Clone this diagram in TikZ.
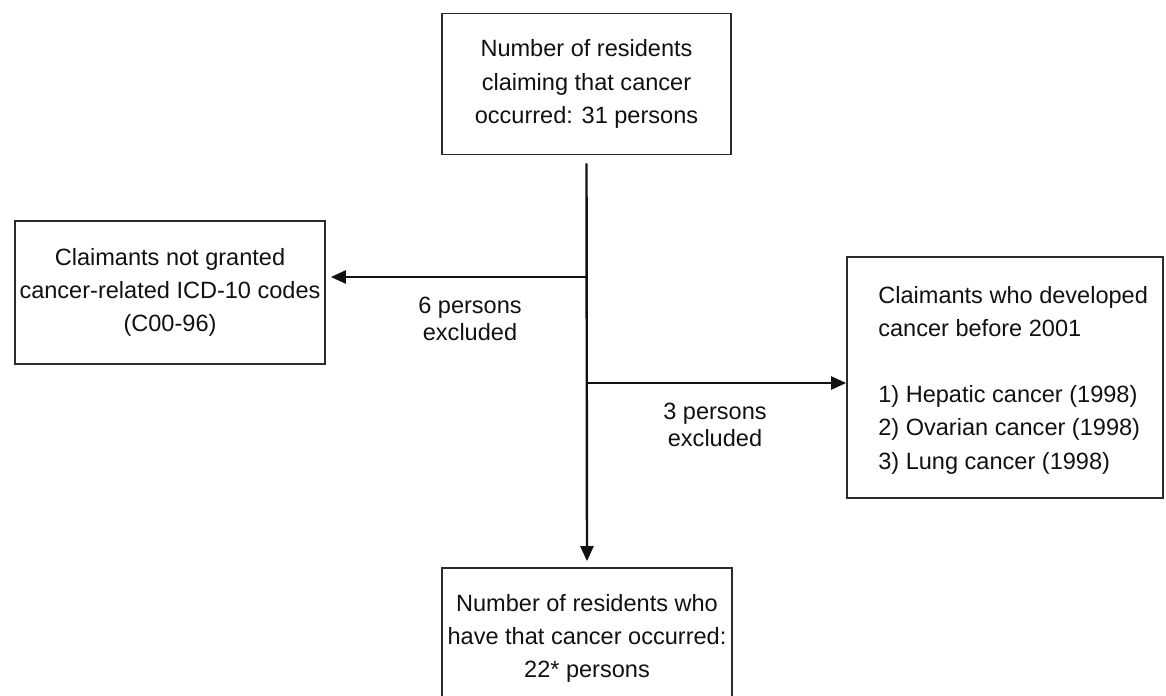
\documentclass[tikz,border=0pt]{standalone}
\usepackage{fontspec}
\setmainfont{Liberation Sans}
\usepackage{tikz}
\usetikzlibrary{positioning, arrows.meta}
\definecolor{cFrame}{HTML}{2B2B2B}
\definecolor{cInk}  {HTML}{111111}
\newlength\pxu
\setlength\pxu{0.02cm}
\tikzset{
  flowbox/.style={draw=cFrame, line width=1.7\pxu, rectangle, align=center,
    inner sep=0pt, text=cInk},
  flowline/.style={draw=cInk, line width=2.4\pxu},
  flowarrow/.style={flowline, -{Triangle[length=0.3cm, width=0.26cm]}},
  exclnote/.style={align=center, text=cInk, font=\fontsize{13.4pt}{15.4pt}\selectfont},
}

\begin{document}
\begin{tikzpicture}[x=\pxu, y=-\pxu, font=\fontsize{13.4pt}{18.9pt}\selectfont]
  \useasboundingbox (0,0) rectangle (1166,696);

  % boxes
  \node[flowbox, minimum width=289\pxu, minimum height=141\pxu] (claim) at (586.5,84)
        {Number of residents\\claiming that cancer\\occurred: 31 persons};
  \node[flowbox, minimum width=310\pxu, minimum height=143\pxu] (nocode) at (170,292.5)
        {Claimants not granted\\cancer-related ICD-10 codes\\(C00-96)};
  \node[flowbox, minimum width=316\pxu, minimum height=241\pxu] (early) at (1005,377.5) {};
  \node[anchor=west, align=left, text=cInk, inner sep=0pt] (earlytxt) at (878,380)
        {Claimants who developed\\cancer before 2001\\[18.9pt]1) Hepatic cancer (1998)\\
         2) Ovarian cancer (1998)\\3) Lung cancer (1998)};
  \node[flowbox, minimum width=290\pxu, minimum height=141\pxu] (result) at (587,638.5)
        {Number of residents who\\have that cancer occurred:\\22* persons};

  % connectors
  \coordinate (top)   at ([yshift=-0.16cm]claim.south);
  \coordinate (forkL) at (587,277);
  \coordinate (forkR) at (587,383);
  \draw[flowarrow, shorten >=0.12cm] (top) -- (result.north);
  \draw[flowarrow, shorten >=0.1cm] (forkL) -- (forkL -| nocode.east);
  \draw[flowarrow] (forkR) -- (forkR -| early.west);

  % exclusion counts
  \node[exclnote] (six)   at (470,318.5) {6 persons\\excluded};
  \node[exclnote] (three) at (715,425) {3 persons\\excluded};
\end{tikzpicture}
\end{document}
